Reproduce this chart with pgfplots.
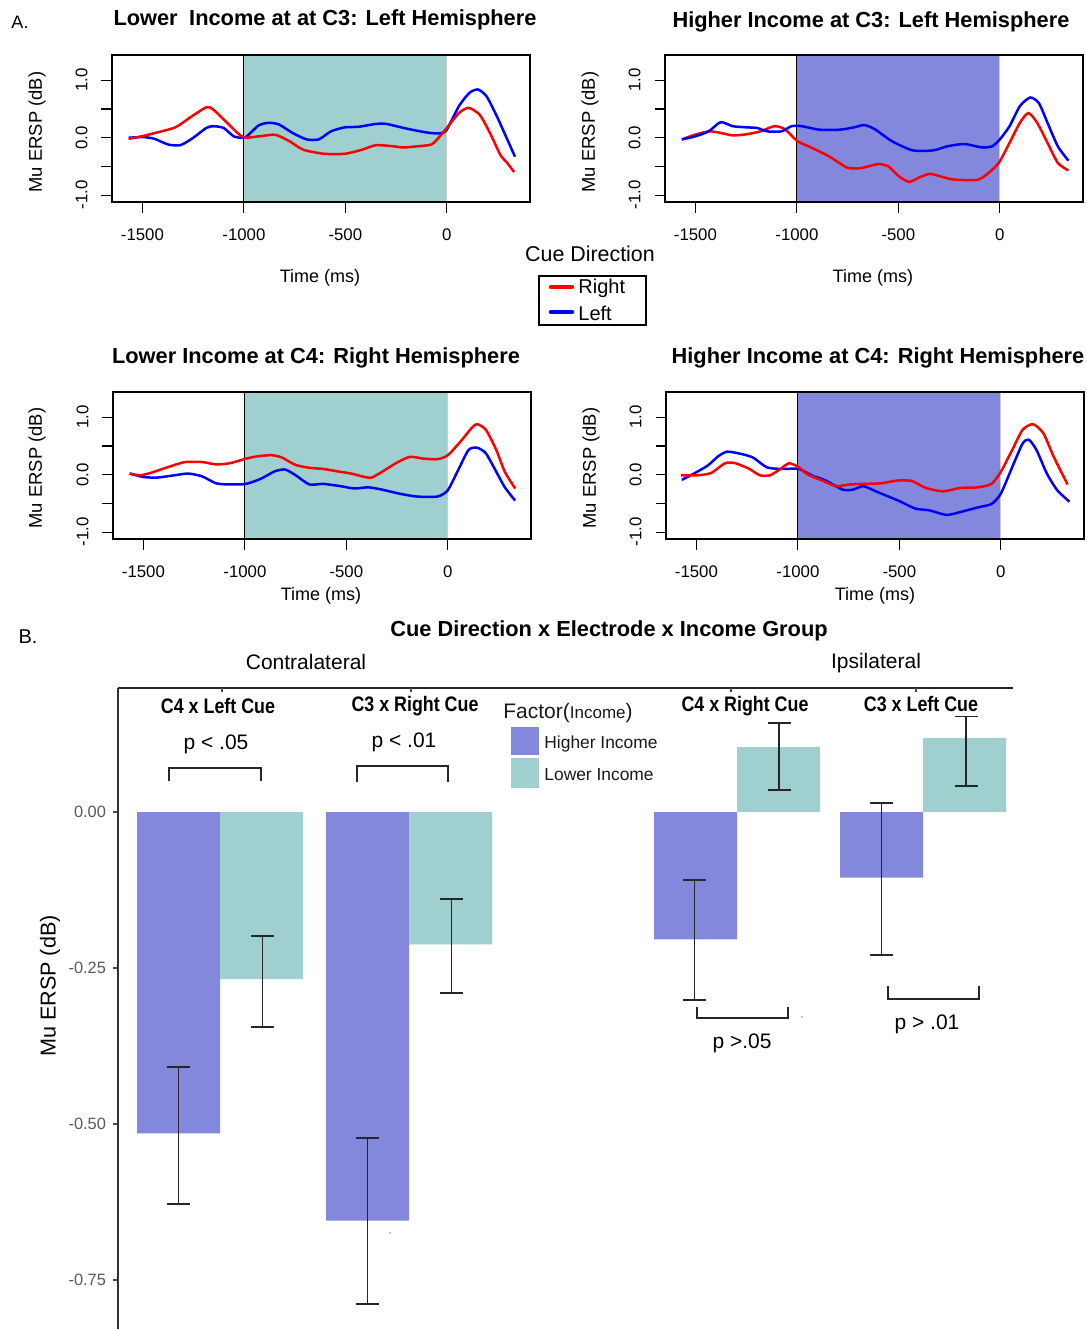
\documentclass[border=0pt]{standalone}
\usepackage{fontspec}
\setmainfont{Liberation Sans}
\usepackage{pgfplots}
\pgfplotsset{compat=1.18}
\usepackage{graphicx}
\definecolor{tealc}{HTML}{9FCFCE}
\definecolor{purpc}{HTML}{8488DD}
\newcommand{\fs}[1]{\fontsize{#1}{#1}\selectfont}
\pgfplotsset{
  erp/.style={scale only axis, width=209pt, height=73.5pt,
    xmin=-1650, xmax=410, ymin=-1.12, ymax=1.44,
    axis on top, clip=true,
    axis line style={line width=0.6pt},
    tick style={black, line width=0.6pt},
    major tick length=5.25pt, tick align=outside,
    xtick={-1500,-1000,-500,0}, xticklabels={-1500,-1000,-500,0},
    ytick={-1,-0.5,0,0.5,1}, yticklabels={{-1.0},{},{0.0},{},{1.0}},
    xtick pos=bottom, ytick pos=left,
    tick label style={font=\fs{8.4}},
    yticklabel style={rotate=90, anchor=south},
    xticklabel shift=4.5pt, yticklabel shift=3.5pt,
  },
  rl/.style={red, line width=1.25pt, smooth, tension=0.4},
  bl/.style={blue, line width=1.25pt, smooth, tension=0.4},
  eb/.style={draw=none, mark=none, forget plot,
    error bars/.cd, y dir=both, y explicit,
    error bar style={draw=black!85, solid, line width=0.9pt},
    error mark options={draw=black!85, solid, line width=0.9pt, mark size=5.75pt, rotate=90}},
}
\begin{document}
\begin{tikzpicture}
\path[use as bounding box] (0,0) rectangle (543.5pt,-664.5pt);

% Panel 1
\begin{axis}[erp, at={(56pt,-101pt)}, anchor=south west]
\fill[tealc] (axis cs:-1000,-1.12) rectangle (axis cs:0,1.44);
\draw[black, line width=0.6pt] (axis cs:-1000,-1.12) -- (axis cs:-1000,1.44);
\draw[black!20, line width=0.6pt] (axis cs:0,-1.12) -- (axis cs:0,1.44);
\addplot[bl] coordinates {(-1568,0.0) (-1492,0.01) (-1440,-0.02) (-1372,-0.12) (-1313,-0.13) (-1253,-0.01) (-1185,0.17) (-1151,0.20) (-1100,0.17) (-1048,0.02) (-992,0.01) (-929,0.21) (-878,0.26) (-827,0.23) (-759,0.08) (-690,-0.03) (-631,-0.03) (-571,0.11) (-503,0.18) (-435,0.19) (-349,0.24) (-298,0.24) (-213,0.17) (-145,0.12) (-77,0.08) (-26,0.08) (0,0.14) (60,0.55) (111,0.78) (153,0.84) (196,0.72) (247,0.37) (298,-0.03) (336,-0.33)};
\addplot[rl] coordinates {(-1568,-0.02) (-1509,0.02) (-1440,0.08) (-1338,0.18) (-1270,0.34) (-1185,0.53) (-1151,0.49) (-1083,0.26) (-1031,0.08) (-992,0.0) (-912,0.03) (-844,0.05) (-776,-0.06) (-707,-0.21) (-605,-0.28) (-503,-0.28) (-418,-0.21) (-349,-0.13) (-264,-0.15) (-213,-0.17) (-145,-0.15) (-77,-0.12) (-43,-0.01) (0,0.17) (60,0.43) (107,0.52) (162,0.40) (213,0.08) (264,-0.30) (298,-0.44) (332,-0.60)};
\end{axis}

% Panel 2
\begin{axis}[erp, at={(332.5pt,-101pt)}, anchor=south west]
\fill[purpc] (axis cs:-1000,-1.12) rectangle (axis cs:0,1.44);
\draw[black, line width=0.6pt] (axis cs:-1000,-1.12) -- (axis cs:-1000,1.44);
\draw[black!20, line width=0.6pt] (axis cs:0,-1.12) -- (axis cs:0,1.44);
\addplot[rl] coordinates {(-1567,-0.03) (-1504,0.05) (-1435,0.11) (-1384,0.09) (-1316,0.04) (-1248,0.06) (-1180,0.11) (-1111,0.20) (-1060,0.15) (-997,-0.06) (-924,-0.18) (-839,-0.33) (-753,-0.52) (-685,-0.53) (-600,-0.46) (-549,-0.50) (-498,-0.67) (-447,-0.77) (-395,-0.69) (-344,-0.63) (-276,-0.69) (-225,-0.73) (-106,-0.73) (-38,-0.56) (0,-0.41) (48,-0.09) (99,0.26) (141,0.43) (184,0.26) (235,-0.09) (286,-0.44) (338,-0.57)};
\addplot[bl] coordinates {(-1567,-0.03) (-1504,0.02) (-1435,0.11) (-1376,0.27) (-1316,0.20) (-1248,0.18) (-1197,0.17) (-1146,0.11) (-1077,0.11) (-1026,0.20) (-975,0.20) (-890,0.14) (-788,0.14) (-719,0.18) (-668,0.22) (-617,0.15) (-532,-0.06) (-430,-0.22) (-327,-0.22) (-259,-0.15) (-174,-0.11) (-89,-0.17) (-38,-0.15) (0,-0.03) (48,0.20) (99,0.55) (150,0.70) (193,0.60) (235,0.26) (286,-0.15) (338,-0.40)};
\end{axis}

% Panel 3
\begin{axis}[erp, at={(56.5pt,-269.5pt)}, anchor=south west]
\fill[tealc] (axis cs:-1000,-1.12) rectangle (axis cs:0,1.44);
\draw[black, line width=0.6pt] (axis cs:-1000,-1.12) -- (axis cs:-1000,1.44);
\draw[black!20, line width=0.6pt] (axis cs:0,-1.12) -- (axis cs:0,1.44);
\addplot[bl] coordinates {(-1568,0.02) (-1500,-0.04) (-1432,-0.05) (-1347,-0.01) (-1279,0.02) (-1210,-0.03) (-1142,-0.15) (-1074,-0.17) (-994,-0.16) (-921,-0.07) (-852,0.06) (-801,0.09) (-750,-0.01) (-682,-0.17) (-614,-0.16) (-528,-0.20) (-460,-0.24) (-392,-0.22) (-324,-0.26) (-239,-0.33) (-153,-0.38) (-51,-0.38) (0,-0.27) (51,0.08) (102,0.43) (145,0.47) (188,0.37) (239,0.05) (281,-0.22) (332,-0.45)};
\addplot[rl] coordinates {(-1568,0.02) (-1517,-0.01) (-1466,0.03) (-1381,0.13) (-1296,0.22) (-1210,0.22) (-1142,0.18) (-1074,0.20) (-994,0.28) (-938,0.32) (-869,0.34) (-818,0.30) (-750,0.17) (-682,0.12) (-614,0.10) (-546,0.06) (-477,0.02) (-409,-0.04) (-375,-0.05) (-324,0.05) (-256,0.20) (-188,0.31) (-119,0.28) (-51,0.27) (0,0.34) (68,0.60) (119,0.82) (145,0.88) (188,0.78) (239,0.43) (281,0.05) (332,-0.24)};
\end{axis}

% Panel 4
\begin{axis}[erp, at={(333pt,-269.5pt)}, anchor=south west]
\fill[purpc] (axis cs:-1000,-1.12) rectangle (axis cs:0,1.44);
\draw[black, line width=0.6pt] (axis cs:-1000,-1.12) -- (axis cs:-1000,1.44);
\draw[black!20, line width=0.6pt] (axis cs:0,-1.12) -- (axis cs:0,1.44);
\addplot[bl] coordinates {(-1572,-0.09) (-1512,0.02) (-1444,0.16) (-1393,0.32) (-1350,0.40) (-1290,0.37) (-1222,0.30) (-1154,0.13) (-1086,0.10) (-996,0.10) (-933,-0.01) (-864,-0.10) (-779,-0.26) (-728,-0.26) (-677,-0.20) (-609,-0.30) (-506,-0.45) (-421,-0.59) (-353,-0.62) (-268,-0.70) (-199,-0.65) (-114,-0.57) (-46,-0.51) (0,-0.33) (56,0.13) (107,0.54) (138,0.61) (176,0.43) (227,0.02) (278,-0.27) (338,-0.47)};
\addplot[rl] coordinates {(-1575,-0.01) (-1495,-0.01) (-1427,0.03) (-1359,0.20) (-1308,0.20) (-1239,0.10) (-1188,-0.01) (-1137,-0.01) (-1086,0.10) (-1043,0.20) (-996,0.13) (-950,0.0) (-881,-0.10) (-813,-0.20) (-745,-0.17) (-677,-0.16) (-592,-0.15) (-506,-0.10) (-438,-0.11) (-370,-0.23) (-285,-0.29) (-199,-0.23) (-114,-0.22) (-46,-0.16) (0,0.05) (56,0.43) (107,0.78) (159,0.88) (210,0.72) (261,0.31) (329,-0.17)};
\end{axis}

% Bar chart
\begin{axis}[scale only axis, width=447pt, height=320.5pt,
  at={(59pt,-664.5pt)}, anchor=south west,
  xmin=118, xmax=1012, ymin=-0.8285, ymax=0.1987,
  axis x line=none, axis y line=left,
  y axis line style={-, line width=0.7pt, draw=black!80},
  ytick={-0.75,-0.5,-0.25,0}, yticklabels={-0.75,-0.50,-0.25,0.00},
  yticklabel style={font=\fs{8.2}, text=black!65},
  tick style={black!70, line width=0.6pt}, major tick length=2.5pt, tick align=outside,
  clip=false]
% Higher Income bars
\addplot[ybar, bar width=83, bar shift=0pt, fill=purpc, draw=none]
  coordinates {(178.5,-0.515) (367.5,-0.655) (695.5,-0.204) (881.5,-0.105)};
% Lower Income bars
\addplot[ybar, bar width=83, bar shift=0pt, fill=tealc, draw=none]
  coordinates {(261.5,-0.268) (450.5,-0.212) (778.5,0.104) (964.5,0.119)};
% error bars
\addplot[eb] coordinates {
  (178.5,-0.515) += (0,0.107) -= (0,0.113)
  (367.5,-0.655) += (0,0.132) -= (0,0.134)
  (694.5,-0.204) += (0,0.095) -= (0,0.097)
  (881.5,-0.105) += (0,0.120) -= (0,0.124)
  };
\addplot[eb] coordinates {
  (262.5,-0.268) += (0,0.069) -= (0,0.076)
  (451.5,-0.212) += (0,0.073) -= (0,0.078)
  (779,0.104) += (0,0.038) -= (0,0.069)
  (966,0.119) += (0,0.034) -= (0,0.077)
  };
\end{axis}

\begin{scope}[x=0.5pt,y=-0.5pt]
% section labels
\node[font=\fs{9}] at (20,22) {A.};
\node[font=\fs{10}] at (28,637) {B.};
% panel titles
\node[font=\fs{10.9}\bfseries] at (325,20) {Lower\hspace{0.25em} Income at at C3: Left Hemisphere};
\node[font=\fs{10.9}\bfseries] at (871,22) {Higher Income at C3: Left Hemisphere};
\node[font=\fs{10.9}\bfseries] at (316,358) {Lower Income at C4: Right Hemisphere};
\node[font=\fs{10.9}\bfseries] at (878,358) {Higher Income at C4: Right Hemisphere};
% axis labels
\node[font=\fs{9}] at (320,278) {Time (ms)};
\node[font=\fs{9}] at (873,278) {Time (ms)};
\node[font=\fs{9}] at (321,596) {Time (ms)};
\node[font=\fs{9}] at (875,596) {Time (ms)};
\node[font=\fs{9.2}, rotate=90] at (37,132) {Mu ERSP (dB)};
\node[font=\fs{9.2}, rotate=90] at (590,132) {Mu ERSP (dB)};
\node[font=\fs{9.2}, rotate=90] at (37,468) {Mu ERSP (dB)};
\node[font=\fs{9.2}, rotate=90] at (591,468) {Mu ERSP (dB)};
% cue legend
\node[font=\fs{10.7}] at (590,254) {Cue Direction};
\draw[black, line width=0.7pt] (539,276) rectangle (646,325);
\draw[red, line width=2.2pt, line cap=round] (551,287) -- (572,287);
\draw[blue, line width=2.2pt, line cap=round] (551,312) -- (572,312);
\node[font=\fs{10}, anchor=west, inner sep=0pt] at (578,288) {Right};
\node[font=\fs{10}, anchor=west, inner sep=0pt] at (578,313) {Left};
% bar chart texts
\node[font=\fs{10.9}\bfseries] at (609,631) {Cue Direction x Electrode x Income Group};
\node[font=\fs{10.5}] at (306,662) {Contralateral};
\node[font=\fs{10.5}] at (876,663) {Ipsilateral};
\draw[black!85, line width=0.7pt] (118,688) -- (1013,688);
\foreach \t in {222,411,731,916} \draw[black!70, line width=0.6pt] (\t,688) -- (\t,692);
\node[font=\fs{10.5}\bfseries] at (218,706) {\scalebox{0.85}[1]{C4 x Left Cue}};
\node[font=\fs{10.5}\bfseries] at (415,706) {\scalebox{0.85}[1]{C3 x Right Cue}};
\node[font=\fs{10.5}\bfseries] at (745,706) {\scalebox{0.85}[1]{C4 x Right Cue}};
\node[font=\fs{10.5}\bfseries] at (921,704) {\scalebox{0.85}[1]{C3 x Left Cue}};
% significance
\node[font=\fs{10.5}] at (216,744) {p < .05};
\node[font=\fs{10.5}] at (404,742) {p < .01};
\draw[black!85, line width=0.8pt] (169,781) -- (169,768) -- (261,768) -- (261,781);
\draw[black!85, line width=0.8pt] (357,782) -- (357,766) -- (448,766) -- (448,782);
\draw[black!85, line width=0.8pt] (697,1007) -- (697,1018) -- (788,1018) -- (788,1007);
\draw[black!85, line width=0.8pt] (888,986) -- (888,999) -- (979,999) -- (979,986);
\node[font=\fs{10.5}] at (742,1043) {p >.05};
\node[font=\fs{10.5}] at (927,1024) {p > .01};
\fill[black] (802,1017) circle (0.6);
\fill[black] (390,1233) circle (0.6);
% bar legend
\node[font=\fs{10.5}, anchor=west, inner sep=0pt, text=black!90] at (503,713) {Factor(\fs{8.5}Income\fs{10.5})};
\fill[purpc] (511,727) rectangle (539,755);
\fill[tealc] (511,758) rectangle (539,788);
\node[font=\fs{8.7}, anchor=west, inner sep=0pt, text=black!90] at (544,744) {Higher Income};
\node[font=\fs{8.7}, anchor=west, inner sep=0pt, text=black!90] at (544,775) {Lower Income};
% bar y label
\node[font=\fs{10.8}, rotate=90] at (50,986) {Mu ERSP (dB)};
\end{scope}
\end{tikzpicture}
\end{document}
